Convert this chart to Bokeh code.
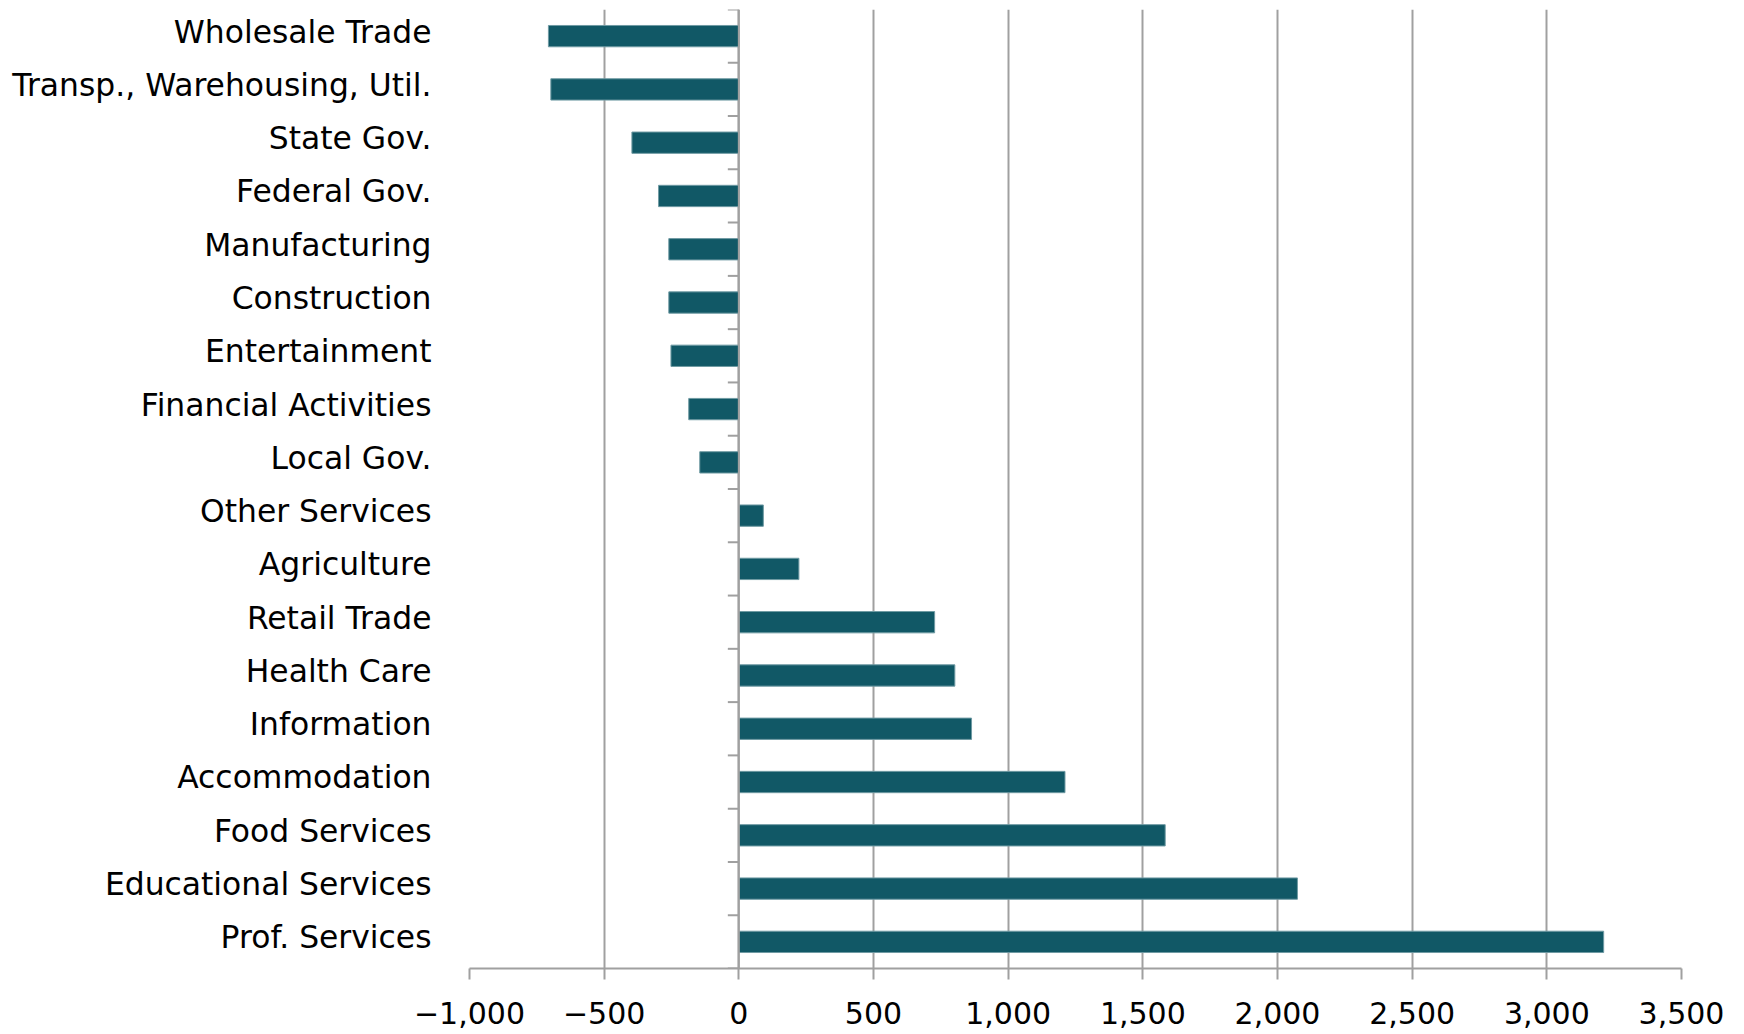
from bokeh.plotting import figure
from bokeh.models import Range1d, FixedTicker, Span, CustomJSTickFormatter, ColumnDataSource
from bokeh.embed import file_html
from bokeh.resources import INLINE

categories = ["Wholesale Trade", "Transp., Warehousing, Util.", "State Gov.", "Federal Gov.",
              "Manufacturing", "Construction", "Entertainment", "Financial Activities",
              "Local Gov.", "Other Services", "Agriculture", "Retail Trade", "Health Care",
              "Information", "Accommodation", "Food Services", "Educational Services",
              "Prof. Services"]
values = [-707, -698, -397, -298, -260, -260, -252, -186, -145, 91, 223, 727, 802, 864,
          1211, 1583, 2074, 3211]
x_ticks = [-1000, -500, 0, 500, 1000, 1500, 2000, 2500, 3000, 3500]

FONT = "DejaVu Sans"
GRID = "#a0a0a0"
BAR = "#115866"

n = len(categories)
idx = list(range(n))

p = figure(width=1744, height=1034, output_backend="svg", toolbar_location=None,
           x_range=Range1d(x_ticks[0], x_ticks[-1]), y_range=Range1d(n - 0.5, -0.5),
           min_border_left=469, min_border_right=63, min_border_top=9, min_border_bottom=66)
p.outline_line_color = None
p.background_fill_color = "white"

src = ColumnDataSource(dict(y=idx, v=values))
p.hbar(y="y", left=0, right="v", height=0.4, source=src, fill_color=BAR,
       line_color="#6f9aa3", line_width=1)

# x axis
p.xaxis.ticker = FixedTicker(ticks=x_ticks)
p.xaxis.formatter = CustomJSTickFormatter(code="return tick.toLocaleString('en-US').replace('-', '\u2212');")
p.xaxis.axis_line_color = GRID
p.xaxis.axis_line_width = 2
p.xaxis.major_tick_line_color = GRID
p.xaxis.major_tick_line_width = 2
p.xaxis.major_tick_out = 11
p.xaxis.major_tick_in = 0
p.xaxis.minor_tick_line_color = None
p.xaxis.major_label_standoff = 22
p.xaxis.major_label_text_font = FONT
p.xaxis.major_label_text_font_size = "30px"
p.xaxis.major_label_text_color = "black"

p.xgrid.ticker = FixedTicker(ticks=x_ticks)
p.xgrid.grid_line_color = GRID
p.xgrid.grid_line_width = 2
p.ygrid.grid_line_color = None

# y axis (labels only, sitting slightly above the bar centres as in the original)
label_shift = 0.085
p.yaxis.ticker = FixedTicker(ticks=[i - label_shift for i in idx])
p.yaxis.formatter = CustomJSTickFormatter(args=dict(cats=categories),
                                          code="return cats[Math.round(tick)];")
p.yaxis.axis_line_color = None
p.yaxis.major_tick_line_color = None
p.yaxis.minor_tick_line_color = None
p.yaxis.major_tick_out = 0
p.yaxis.major_tick_in = 0
p.yaxis.major_label_standoff = 38
p.yaxis.major_label_text_font = FONT
p.yaxis.major_label_text_font_size = "31.4px"
p.yaxis.major_label_text_color = "black"

# zero axis line with boundary ticks
p.add_layout(Span(location=0, dimension="height", line_color=GRID, line_width=2))
bounds = [i - 0.5 for i in range(n + 1)]
tick_len = (x_ticks[-1] - x_ticks[0]) / 1211 * 11
p.segment(x0=[0] * len(bounds), x1=[-tick_len] * len(bounds), y0=bounds, y1=bounds,
          line_color=GRID, line_width=2)

open("out.html", "w").write(file_html(p, INLINE))
